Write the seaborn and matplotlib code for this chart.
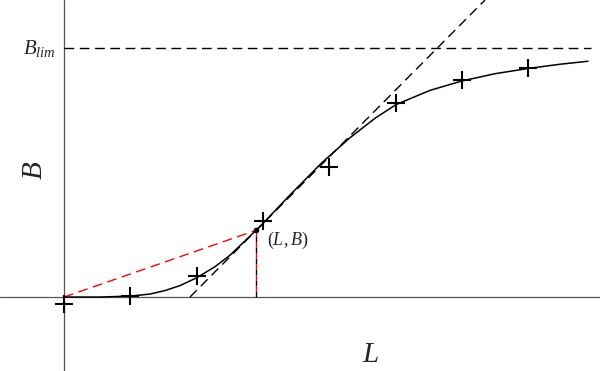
import matplotlib
matplotlib.use("Agg")
import matplotlib.pyplot as plt
import seaborn as sns
import numpy as np

# ---- data ----
obs_L = [0, 1, 2, 3, 4, 5, 6, 7]
obs_B = [-0.028, 0.004, 0.084, 0.305, 0.522, 0.779, 0.871, 0.920]

curve_L = [0.0, 0.543, 1.01, 1.297, 1.523, 1.750, 2.006, 2.278, 2.504, 2.700,
           2.896, 3.002, 3.409, 3.891, 4.314, 4.691, 5.008, 5.520, 6.003,
           6.501, 7.000, 7.481, 7.903]
curve_B = [0.0, 0.0, 0.004, 0.012, 0.026, 0.046, 0.078, 0.122, 0.168, 0.218,
           0.268, 0.296, 0.410, 0.540, 0.640, 0.718, 0.773, 0.830, 0.868,
           0.897, 0.918, 0.935, 0.947]

B_lim = 1.0
blim_L = [0.0, 7.95]
tangent_L = [1.90, 6.35]
tangent_B = [0.0, 1.193]
point_L, point_B = 2.896, 0.268

sns.set_theme(style="white")
plt.rcParams["mathtext.fontset"] = "custom"
plt.rcParams["mathtext.rm"] = "Liberation Serif"
plt.rcParams["mathtext.it"] = "Liberation Serif:italic"

fig = plt.figure(figsize=(6.0, 3.71), dpi=100)
ax = fig.add_axes([0, 0, 1, 1])
ax.set_xlim(-0.965, 8.084)
ax.set_ylim(-0.297, 1.193)
ax.axis("off")

# axes through the origin
ax.axhline(0, color="#555555", lw=0.9, zorder=1)
ax.axvline(0, color="#555555", lw=0.9, zorder=1)

# B_lim asymptote
ax.plot(blim_L, [B_lim, B_lim], color="black", lw=1.0, dashes=(7, 4), zorder=2)
# tangent line at inflection
ax.plot(tangent_L, tangent_B, color="black", lw=1.0, dashes=(7, 4), zorder=2)

# red construction lines
ax.plot([0, point_L], [0, point_B], color="red", lw=1.0, dashes=(7, 4), zorder=2)
ax.plot([point_L, point_L], [0, point_B], color="black", lw=1.0,
        linestyle=(0, (4, 4)), zorder=2)
ax.plot([point_L, point_L], [0, point_B], color="red", lw=1.0,
        linestyle=(4, (4, 4)), zorder=2)
ax.plot([point_L], [point_B], "o", color="black", ms=3, zorder=4)

# fitted curve
sns.lineplot(x=curve_L, y=curve_B, sort=False, color="black", lw=1.1, ax=ax,
             estimator=None, zorder=3)
# observations
sns.scatterplot(x=obs_L, y=obs_B, marker="+", s=180, color="black",
                linewidth=1.5, ax=ax, zorder=5)

# labels
ax.text(-0.12, B_lim, r"$B_{lim}$", ha="right", va="center", fontsize=15)
ax.text(3.06, point_B - 0.04, r"$(L,B)$", ha="left", va="center", fontsize=13)
ax.text(4.62, -0.23, r"$L$", ha="center", va="center", fontsize=21)
ax.text(-0.45, 0.51, r"$B$", ha="center", va="center", fontsize=21, rotation=90)

fig.savefig("out.png", dpi=100)
